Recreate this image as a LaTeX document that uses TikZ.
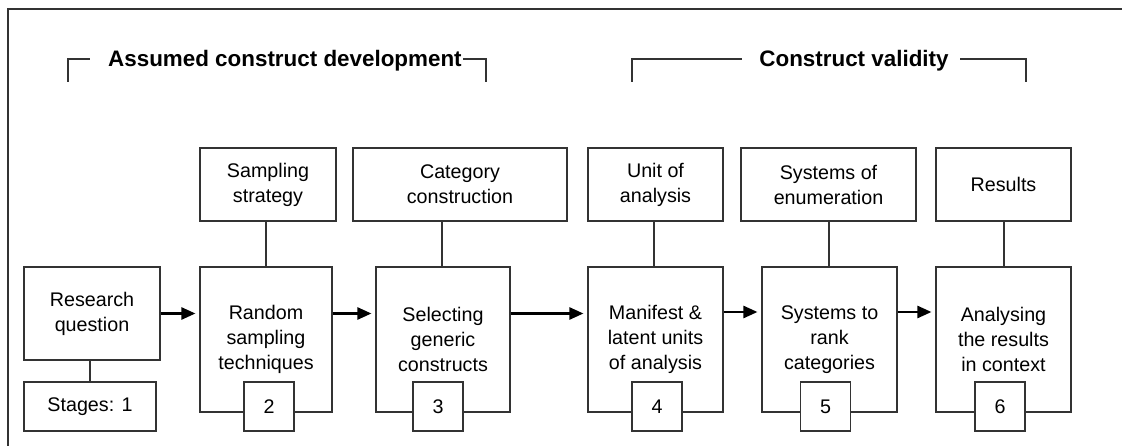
\documentclass[tikz,border=0pt]{standalone}
\usepackage{fontspec}
\setmainfont{Liberation Sans}
\usetikzlibrary{arrows.meta}
\tikzset{
  box/.style={draw=black!80, line width=1.1pt, fill=white, inner sep=0pt, align=center,
    font=\fontsize{19.7}{25}\selectfont},
  stagebox/.style={box, minimum height=145pt, minimum width=134pt},
  topbox/.style={box, minimum height=73pt},
  numbox/.style={box, minimum width=50pt, minimum height=49pt},
  link/.style={draw=black!80, line width=1.1pt},
  flow/.style={line width=2.4pt, -{Triangle[length=14pt,width=12pt]}, shorten >=4pt},
  heading/.style={font=\bfseries\fontsize{22.4}{26}\selectfont, inner sep=0pt},
  bracket/.style={draw=black!80, line width=1.1pt}
}
\begin{document}
\begin{tikzpicture}[x=1pt, y=-1pt]
\useasboundingbox (0,0) rectangle (1122,446);

% frame
\draw[draw=black!80, line width=1.6pt] (8,446) -- (8,9) -- (1122,9);

% phase headings with their brackets
\node[heading, anchor=base west] (acd) at (108,66.7) {Assumed construct development};
\node[heading, anchor=base] (cv) at (854,66.7) {Construct validity};
\coordinate (a1) at (68,82);  \coordinate (a2) at (486,82);
\coordinate (c1) at (632,82); \coordinate (c2) at (1026,82);
\draw[bracket] (a1) -- (a1 |- 0,59) -- (90,59);
\draw[bracket] (463,59) -- (a2 |- 0,59) -- (a2);
\draw[bracket] (c1) -- (c1 |- 0,59) -- (742,59);
\draw[bracket] (960,59) -- (c2 |- 0,59) -- (c2);

% stage 1
\node[box, minimum width=136pt, minimum height=93pt] (rq) at (92,313.5) {Research\\question};
\node[box, minimum width=132pt, minimum height=49pt] (st1) at (90,406.5) {Stages: 1};
\draw[link] (st1.north) -- (st1.north |- rq.south);

% stages 2-6
\node[stagebox, minimum width=132pt] (b2) at (266,339.5) {Random\\sampling\\techniques};
\node[stagebox] (b3) at (443,339.5) {Selecting\\generic\\constructs};
\node[stagebox, minimum width=135pt] (b4) at (655.5,339.5) {Manifest \&\\latent units\\of analysis};
\node[stagebox, minimum width=135pt] (b5) at (829.5,339.5) {Systems to\\rank\\categories};
\node[stagebox, minimum width=135pt] (b6) at (1003.5,339.5) {Analysing\\the results\\in context};

\node[numbox] (n2) at (269,406.5) {2};
\node[numbox] (n3) at (438,406.5) {3};
\node[numbox] (n4) at (657,406.5) {4};
\node[numbox] (n5) at (825.5,406.5) {5};
\node[numbox] (n6) at (1000,406.5) {6};

\node[topbox, minimum width=136pt] (t2) at (268,184.5) {Sampling\\strategy};
\node[topbox, minimum width=214pt] (t3) at (460,184.5) {Category\\construction};
\node[topbox, minimum width=135pt] (t4) at (655.5,184.5) {Unit of\\analysis};
\node[topbox, minimum width=175pt] (t5) at (828.5,184.5) {Systems of\\enumeration};
\node[topbox, minimum width=135pt] (t6) at (1003.5,184.5) {Results};

\draw[link] (b2.north -| 266,0) -- (t2.south -| 266,0);
\draw[link] (b3.north -| 442,0) -- (t3.south -| 442,0);
\draw[link] (b4.north -| 654,0) -- (t4.south -| 654,0);
\draw[link] (b5.north -| 829,0) -- (t5.south -| 829,0);
\draw[link] (b6.north -| 1004,0) -- (t6.south -| 1004,0);

% flow between stages
\draw[flow] (rq.east) -- (rq.east -| b2.west);
\draw[flow] (b2.east |- rq.east) -- (b3.west |- rq.east);
\draw[flow] (b3.east |- rq.east) -- (b4.west |- rq.east);
\draw[flow] (b4.east |- 0,312) -- (b5.west |- 0,312);
\draw[flow] (b5.east |- 0,312) -- (b6.west |- 0,312);
\end{tikzpicture}
\end{document}
